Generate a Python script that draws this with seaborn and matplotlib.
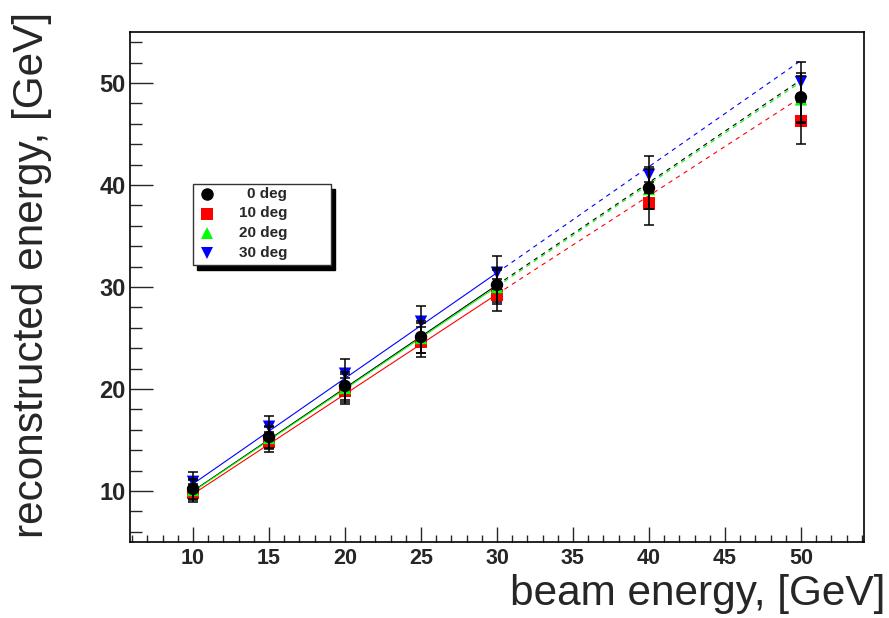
import numpy as np
import pandas as pd
import matplotlib
matplotlib.use("Agg")
import matplotlib.pyplot as plt
import seaborn as sns
from matplotlib.lines import Line2D
from matplotlib.patches import Rectangle
from matplotlib.ticker import MultipleLocator

# ---------------- data ----------------
beam_energy = [10, 15, 20, 25, 30, 40, 50]
series_labels = ["0 deg", "10 deg", "20 deg", "30 deg"]

reco_0deg = [10.2, 15.3, 20.3, 25.1, 30.2, 39.7, 48.6]
reco_10deg = [9.8, 14.8, 19.8, 24.6, 29.2, 38.2, 46.3]
reco_20deg = [10.1, 15.2, 20.1, 25.0, 30.0, 39.6, 48.4]
reco_30deg = [10.9, 16.3, 21.5, 26.6, 31.4, 41.0, 50.1]

err_0deg = [1.0, 1.1, 1.4, 1.6, 1.7, 2.1, 2.4]
err_10deg = [0.9, 1.0, 1.3, 1.5, 1.6, 2.1, 2.3]
err_20deg = [1.0, 1.1, 1.4, 1.5, 1.7, 2.0, 2.3]
err_30deg = [1.0, 1.1, 1.4, 1.5, 1.6, 1.8, 2.0]

# linear fit lines: solid over fitted range, dashed extrapolation
fit_x = [10, 30, 50]
fit_0deg = [10.0, 30.2, 50.3]
fit_10deg = [9.7, 29.3, 48.6]
fit_20deg = [9.95, 30.05, 50.1]
fit_30deg = [10.7, 31.4, 52.2]

x_label = "beam energy, [GeV]"
y_label = "reconstructed energy, [GeV]"

# ---------------- styling ----------------
sns.set_style("white")
plt.rcParams["font.family"] = ["Liberation Sans", "DejaVu Sans"]

palette = {"0 deg": "#000000", "10 deg": "#ff0000", "20 deg": "#00ff00", "30 deg": "#0000ff"}
markers = {"0 deg": "o", "10 deg": "s", "20 deg": "^", "30 deg": "v"}
draw_order = ["10 deg", "20 deg", "30 deg", "0 deg"]
line_order = ["10 deg", "30 deg", "0 deg", "20 deg"]

reco = dict(zip(series_labels, [reco_0deg, reco_10deg, reco_20deg, reco_30deg]))
errs = dict(zip(series_labels, [err_0deg, err_10deg, err_20deg, err_30deg]))
fits = dict(zip(series_labels, [fit_0deg, fit_10deg, fit_20deg, fit_30deg]))

pts = pd.concat(
    [pd.DataFrame({"beam": beam_energy, "reco": reco[s], "err": errs[s], "series": s}) for s in draw_order],
    ignore_index=True,
)
fit_rows = []
for s in line_order:
    fx_, fy_ = fit_x, fits[s]
    fit_rows.append(pd.DataFrame({"x": fx_[:2], "y": fy_[:2], "series": s, "seg": "fit"}))
    fit_rows.append(pd.DataFrame({"x": fx_[1:], "y": fy_[1:], "series": s, "seg": "extrap"}))
fit_df = pd.concat(fit_rows, ignore_index=True)

W, H = 889, 618
fig = plt.figure(figsize=(W / 100, H / 100), dpi=100)
ax_l, ax_r, ax_t, ax_b = 130, 864, 32, 542
ax = fig.add_axes([ax_l / W, 1 - ax_b / H, (ax_r - ax_l) / W, (ax_b - ax_t) / H])

sns.lineplot(
    data=fit_df, x="x", y="y", hue="series", style="seg", hue_order=line_order,
    palette=palette, dashes={"fit": "", "extrap": (4, 4)}, estimator=None, sort=False,
    units="seg", linewidth=0.8, legend=False, ax=ax, zorder=2,
)

sns.scatterplot(
    data=pts, x="beam", y="reco", hue="series", style="series", hue_order=draw_order,
    palette=palette, markers=markers, s=80, linewidth=0, legend=False, ax=ax, zorder=3,
)

for s in draw_order:
    sub = pts[pts["series"] == s]
    ax.errorbar(sub["beam"], sub["reco"], yerr=sub["err"], fmt="none", ecolor="black",
                elinewidth=1.1, capsize=3.5, capthick=1.1, zorder=4)

ax.set_xlim(5.85, 54.15)
ax.set_ylim(5, 55)
ax.xaxis.set_major_locator(MultipleLocator(5))
ax.xaxis.set_minor_locator(MultipleLocator(1))
ax.yaxis.set_major_locator(MultipleLocator(10))
ax.yaxis.set_minor_locator(MultipleLocator(2))
ax.set_xticks([10, 15, 20, 25, 30, 35, 40, 45, 50])
ax.set_xlabel("")
ax.set_ylabel("")

ax.tick_params(axis="x", which="major", direction="in", length=10.8, width=1.0, pad=4,
               labelsize=15.5, bottom=True, top=False)
ax.tick_params(axis="x", which="minor", direction="in", length=5.0, width=1.0, bottom=True, top=False)
ax.tick_params(axis="y", which="major", direction="in", length=16.5, width=1.0, pad=3,
               labelsize=17, left=True, right=False)
ax.tick_params(axis="y", which="minor", direction="in", length=8.5, width=1.0, left=True, right=False)
for lab in ax.get_xticklabels() + ax.get_yticklabels():
    lab.set_fontweight("bold")
for sp in ax.spines.values():
    sp.set_visible(True)
    sp.set_color("black")
    sp.set_linewidth(1.2)

fig.text(885 / W, 1 - 614 / H, x_label, ha="right", va="bottom", fontsize=30.5)
fig.text(32 / W, 1 - 12 / H, y_label, ha="center", va="top", rotation=90, fontsize=30.5)

# ---------------- legend (ROOT-style box with solid shadow) ----------------
def fx(px):
    return px / W


def fy(py):
    return 1 - py / H


bx0, by0, bx1, by1 = 193, 184, 331, 265
fig.add_artist(Rectangle((fx(bx0 + 4), fy(by1 + 5)), fx(bx1 - bx0), (by1 - by0) / H,
                         transform=fig.transFigure, facecolor="black", edgecolor="black", zorder=10))
fig.add_artist(Rectangle((fx(bx0), fy(by1)), fx(bx1 - bx0), (by1 - by0) / H,
                         transform=fig.transFigure, facecolor="white", edgecolor="#333333",
                         linewidth=1.0, zorder=11))
row_y = [194, 213.5, 233, 252.5]
for s, yy in zip(series_labels, row_y):
    fig.add_artist(Line2D([fx(207)], [fy(yy)], transform=fig.transFigure, marker=markers[s],
                          markersize=9, color=palette[s], markeredgewidth=0, linestyle="none", zorder=12))
    fig.text(fx(287), fy(yy), s, ha="right", va="center", fontsize=11, fontweight="bold", zorder=12)

fig.savefig("out.png", dpi=100)
